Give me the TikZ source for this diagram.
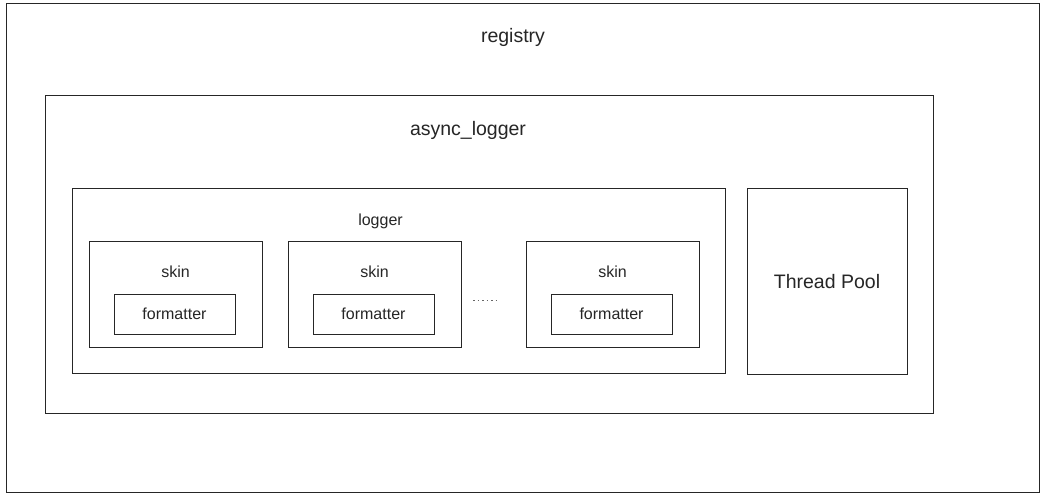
\documentclass[tikz,border=0pt]{standalone}
\usepackage{fontspec}
\setmainfont{Liberation Sans}
\begin{document}
\begin{tikzpicture}[x=1pt,y=-1pt,
  box/.style={draw=black!85, line width=1pt, inner sep=0pt},
  small/.style={font=\fontsize{16}{18}\selectfont, text=black!85, inner sep=0pt},
  big/.style={font=\fontsize{19.5}{22}\selectfont, text=black!85, inner sep=0pt}]
\useasboundingbox (0,0) rectangle (1048,496);
\fill[white] (0,0) rectangle (1048,496);
% registry
\node[box, minimum width=1033pt, minimum height=489pt] (registry) at (522.5,247.5) {};
\node[big] (registrylbl) at (513,37) {registry};
% async_logger
\node[box, minimum width=888pt, minimum height=318pt] (async) at (489,254) {};
\node[big] (asynclbl) at (468,130) {async\_logger};
% logger
\node[box, minimum width=653pt, minimum height=185pt] (logger) at (398.5,280.5) {};
\node[small] (loggerlbl) at (380.5,221) {logger};
% skins
\node[box, minimum width=173pt, minimum height=106pt] (skin1) at (175.5,294) {};
\node[small] (skin1lbl) at (175.5,272) {skin};
\node[box, minimum width=121pt, minimum height=40pt] (fmt1) at (174.5,314) {};
\node[small] (fmt1lbl) at (174.5,314) {formatter};
\node[box, minimum width=173pt, minimum height=106pt] (skin2) at (374.5,294) {};
\node[small] (skin2lbl) at (374.5,272) {skin};
\node[box, minimum width=121pt, minimum height=40pt] (fmt2) at (373.5,314) {};
\node[small] (fmt2lbl) at (373.5,314) {formatter};
\node[box, minimum width=173pt, minimum height=106pt] (skin3) at (612.5,294) {};
\node[small] (skin3lbl) at (612.5,272) {skin};
\node[box, minimum width=121pt, minimum height=40pt] (fmt3) at (611.5,314) {};
\node[small] (fmt3lbl) at (611.5,314) {formatter};
% dots
\coordinate (d1) at (473,300);
\coordinate (d2) at (498,300);
\draw[black!60, line width=0.8pt, dash pattern=on 1.5pt off 3pt] (d1) -- (d2);
% thread pool
\node[box, minimum width=160pt, minimum height=186pt] (pool) at (827,281) {};
\node[big] (poollbl) at (827,282) {Thread Pool};
\end{tikzpicture}
\end{document}
